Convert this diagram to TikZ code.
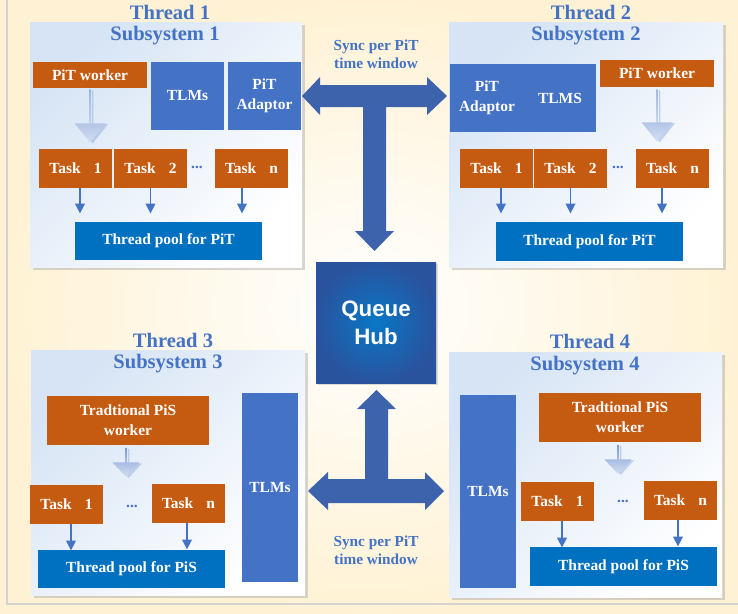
\documentclass[tikz,border=0pt]{standalone}
\usepackage{fontspec}
\setmainfont{Liberation Serif}
\newfontfamily\hubfont{Liberation Sans}
\usepackage{xcolor}
\usetikzlibrary{arrows.meta,shapes.arrows,shadows}

\definecolor{taskorange}{HTML}{C55A11}
\definecolor{tlmblue}{HTML}{4472C4}
\definecolor{poolblue}{HTML}{0070C0}
\definecolor{syncblue}{HTML}{3C63AB}
\definecolor{titleblue}{HTML}{4472C4}
\definecolor{panelblue}{HTML}{D6E4F5}
\definecolor{creambg}{HTML}{FFF2D4}
\definecolor{hubinner}{HTML}{0877C6}
\definecolor{hubouter}{HTML}{2A539E}
\definecolor{flowtop}{HTML}{7B9BD5}
\definecolor{flowbot}{HTML}{D3DEF1}

\begin{document}
\begin{tikzpicture}[x=0.02cm, y=-0.02cm,
    wh/.style 2 args={minimum width=#1*0.02cm, minimum height=#2*0.02cm},
    panel/.style={inner sep=0, top color=panelblue, bottom color=white, shading angle=45,
        drop shadow={shadow xshift=1.6pt, shadow yshift=-1.6pt, fill=gray!70, opacity=0.45}},
    titletext/.style={text=titleblue, font=\bfseries\fontsize{11.7}{13}\selectfont},
    tskbox/.style={fill=taskorange, text=white, inner sep=0, align=center,
        font=\bfseries\fontsize{8.8}{11.3}\selectfont},
    tlmbox/.style={tskbox, fill=tlmblue},
    poolbox/.style={tskbox, fill=poolblue},
    boxtext/.style={text=white, align=center, font=\bfseries\fontsize{8.8}{11.3}\selectfont},
    ellip/.style={text=tlmblue, font=\bfseries\fontsize{8.8}{10}\selectfont},
    hub/.style={inner sep=0, inner color=hubinner, outer color=hubouter, text=white, align=center,
        font=\hubfont\bfseries\fontsize{12.7}{15.9}\selectfont,
        drop shadow={shadow xshift=1.2pt, shadow yshift=-1.2pt, fill=gray!60, opacity=0.45}},
    flow/.style={single arrow, shape border rotate=270, inner sep=0,
        top color=flowtop, bottom color=flowbot,
        drop shadow={shadow xshift=1.5pt, shadow yshift=-0.5pt, fill=tlmblue!55, opacity=0.55}},
    bigflow/.style={flow, minimum width=0.62cm, single arrow head extend=0.14cm, single arrow tip angle=78},
    smallflow/.style={flow, minimum width=0.54cm, single arrow head extend=0.11cm, single arrow tip angle=86},
    tarrow/.style={tlmblue, line width=0.85pt, -{Triangle[length=5.5pt, width=5.5pt]}},
    sync/.style={fill=syncblue},
    synctext/.style={text=titleblue, align=center, font=\bfseries\fontsize{8.7}{10.4}\selectfont}
]
\useasboundingbox (0,0) rectangle (738,613);

% background page
\fill[creambg] (0,0) rectangle (738,613);
\shade[inner color=white, outer color=creambg] (0,0) rectangle (738,613);
\draw[gray!35, line width=1.1pt] (7,0) -- (7,604) -- (738,604);

% subsystem panels
\node[panel, wh={272}{245}] (sub1) at (166,144.5) {};
\node[panel, wh={274}{245}] (sub2) at (586,144.5) {};
\node[panel, wh={274}{245}] (sub3) at (168,472.5) {};
\node[panel, wh={273}{245}] (sub4) at (585.5,474.5) {};

\node[titletext] (thr1) at (170,12) {Thread 1};
\node[titletext] (ttl1) at (165,36) {Subsystem 1};
\node[titletext] (thr2) at (591,12) {Thread 2};
\node[titletext] (ttl2) at (586,36) {Subsystem 2};
\node[titletext] (thr3) at (173,340) {Thread 3};
\node[titletext] (ttl3) at (168,364) {Subsystem 3};
\node[titletext] (thr4) at (590,341) {Thread 4};
\node[titletext] (ttl4) at (585,366) {Subsystem 4};

% subsystem 1
\node[tskbox, wh={114}{26}] (wrk1) at (90,75) {PiT worker};
\node[tlmbox, wh={73}{68}] (tlm1) at (187.5,96) {TLMs};
\node[tlmbox, wh={73}{68}] (adp1) at (264.5,96) {PiT\\Adaptor};
\node[bigflow, minimum height=1.06cm] (flw1) at (90,115.5) {};
\node[tskbox, wh={73}{39}] (t11) at (75.5,168.5) {Task\hspace{0.85em}1};
\node[tskbox, wh={73}{39}] (t12) at (150.5,168.5) {Task\hspace{0.85em}2};
\node[tskbox, wh={73}{39}] (t1n) at (251.5,168.5) {Task\hspace{0.85em}n};
\node[ellip] (dt1) at (197,167) {...};
\node[poolbox, wh={187}{38}] (pool1) at (168.5,241) {Thread pool for PiT};
\draw[tarrow] (t11.south) ++(4.5,0) -- ++(0,25);
\draw[tarrow] (t12.south) -- ++(0,25);
\draw[tarrow] (t1n.south) ++(-9.5,0) -- ++(0,25);

% subsystem 2
\node[tlmbox, wh={146}{68}] (ptl2) at (523,98) {};
\node[boxtext] (adp2) at (487,98) {PiT\\Adaptor};
\node[boxtext] (tlm2) at (560,98) {TLMS};
\node[tskbox, wh={114}{27}] (wrk2) at (657,73.5) {PiT worker};
\node[bigflow, minimum height=1.04cm] (flw2) at (657,115) {};
\node[tskbox, wh={73}{39}] (t21) at (496.5,168.5) {Task\hspace{0.85em}1};
\node[tskbox, wh={73}{39}] (t22) at (570.5,168.5) {Task\hspace{0.85em}2};
\node[tskbox, wh={73}{39}] (t2n) at (672.5,168.5) {Task\hspace{0.85em}n};
\node[ellip] (dt2) at (618,167) {...};
\node[poolbox, wh={187}{39}] (pool2) at (589.5,241.5) {Thread pool for PiT};
\draw[tarrow] (t21.south) ++(4.5,0) -- ++(0,25);
\draw[tarrow] (t22.south) -- ++(0,25);
\draw[tarrow] (t2n.south) ++(-10.5,0) -- ++(0,25);

% subsystem 3
\node[tskbox, wh={162}{49}] (wrk3) at (128,420.5) {Tradtional PiS\\worker};
\node[smallflow, minimum height=0.58cm] (flw3) at (126,462) {};
\node[tskbox, wh={73}{39}] (t31) at (66.5,504.5) {Task\hspace{0.85em}1};
\node[tskbox, wh={73}{39}] (t3n) at (188.5,503.5) {Task\hspace{0.85em}n};
\node[ellip] (dt3) at (132,506) {...};
\node[poolbox, wh={187}{38}] (pool3) at (131.5,569) {Thread pool for PiS};
\node[tlmbox, wh={56}{189}] (tlm3) at (270,487.5) {TLMs};
\draw[tarrow] (t31.south) ++(4.5,0) -- ++(0,26);
\draw[tarrow] (t3n.south) ++(-1.5,0) -- ++(0,26);

% subsystem 4
\node[tlmbox, wh={56}{193}] (tlm4) at (488,491.5) {TLMs};
\node[tskbox, wh={162}{49}] (wrk4) at (620,417.5) {Tradtional PiS\\worker};
\node[smallflow, minimum height=0.58cm] (flw4) at (618,459) {};
\node[tskbox, wh={73}{39}] (t41) at (557.5,501.5) {Task\hspace{0.85em}1};
\node[tskbox, wh={73}{39}] (t4n) at (680.5,500.5) {Task\hspace{0.85em}n};
\node[ellip] (dt4) at (623,501) {...};
\node[poolbox, wh={187}{39}] (pool4) at (623.5,566.5) {Thread pool for PiS};
\draw[tarrow] (t41.south) ++(4.5,0) -- ++(0,26);
\draw[tarrow] (t4n.south) ++(-2.5,0) -- ++(0,26);

% queue hub and sync arrows
\node[hub, wh={120}{121}] (hub) at (376,322.5) {Queue\\Hub};

\fill[sync] (302,96) -- (320,77) -- (320,85) -- (427,85) -- (427,77) -- (447,96)
    -- (427,115) -- (427,107) -- (386,107) -- (386,231) -- (394,231) -- (374.5,251)
    -- (355,231) -- (363,231) -- (363,107) -- (320,107) -- (320,115) -- cycle;
\fill[sync] (308,491) -- (328,472) -- (328,479) -- (365,479) -- (365,409) -- (357,409)
    -- (376.5,390) -- (396,409) -- (388,409) -- (388,479) -- (425,479) -- (425,472)
    -- (444,491) -- (425,510) -- (425,503) -- (328,503) -- (328,510) -- cycle;

\node[synctext] (snc1) at (376,54) {Sync per PiT\\time window};
\node[synctext] (snc2) at (376,550) {Sync per PiT\\time window};

\end{tikzpicture}
\end{document}
